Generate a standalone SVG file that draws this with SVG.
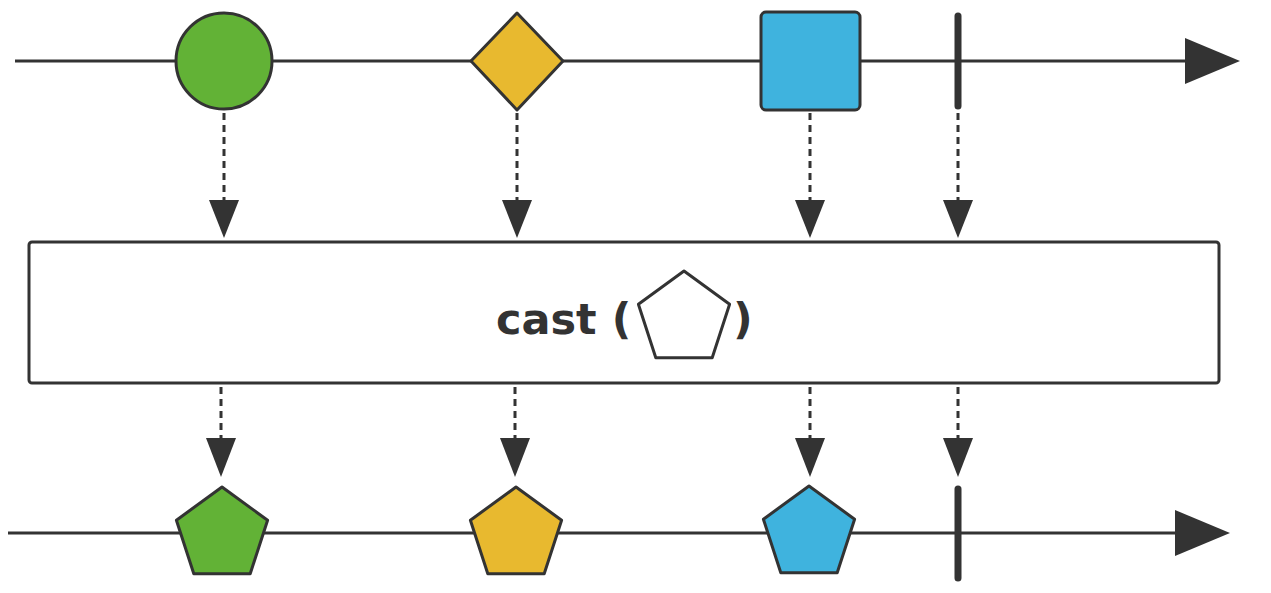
<svg xmlns="http://www.w3.org/2000/svg" width="1271" height="593" viewBox="0 0 1271 593">
<style>
.line{stroke:#333;stroke-width:3;fill:none}
.dash{stroke:#333;stroke-width:3;stroke-dasharray:7 5;fill:none}
.shape{stroke:#333;stroke-width:3;stroke-linejoin:round}
.term{stroke:#333;stroke-width:7;stroke-linecap:round}
.head{fill:#333}
.lbl{font-family:"DejaVu Sans",Verdana,sans-serif;font-weight:bold;font-size:43px;fill:#333}
</style>
<defs>
<polygon id="pent" points="0,-48 45.6,-14.8 28.2,38.8 -28.2,38.8 -45.6,-14.8"/>
</defs>
<g id="timeline-top">
<line class="line" x1="15" y1="61" x2="1190" y2="61"/>
<polygon class="head" points="1185,38 1240,61 1185,84"/>
</g>
<g id="timeline-bottom">
<line class="line" x1="8" y1="533" x2="1180" y2="533"/>
<polygon class="head" points="1175,510 1230,533 1175,556"/>
</g>
<g id="connectors">
<line class="dash" x1="224" y1="113" x2="224" y2="204"/>
<polygon class="head" points="209,200 239,200 224,238"/>
<line class="dash" x1="517" y1="113" x2="517" y2="204"/>
<polygon class="head" points="502,200 532,200 517,238"/>
<line class="dash" x1="810" y1="113" x2="810" y2="204"/>
<polygon class="head" points="795,200 825,200 810,238"/>
<line class="dash" x1="958" y1="113" x2="958" y2="204"/>
<polygon class="head" points="943,200 973,200 958,238"/>
<line class="dash" x1="221" y1="387" x2="221" y2="442"/>
<polygon class="head" points="206,438 236,438 221,477"/>
<line class="dash" x1="515" y1="387" x2="515" y2="442"/>
<polygon class="head" points="500,438 530,438 515,477"/>
<line class="dash" x1="810" y1="387" x2="810" y2="442"/>
<polygon class="head" points="795,438 825,438 810,477"/>
<line class="dash" x1="958" y1="387" x2="958" y2="442"/>
<polygon class="head" points="943,438 973,438 958,477"/>
</g>
<g id="in-circle"><circle class="shape" cx="224" cy="61" r="48" fill="#62B236"/></g>
<g id="in-diamond"><polygon class="shape" points="517,13 563,61 517,110 471,61" fill="#E8B92F"/></g>
<g id="in-square"><rect class="shape" x="761" y="12" width="99" height="98" rx="5" fill="#3FB3DE"/></g>
<g id="in-complete"><line class="term" x1="958" y1="16" x2="958" y2="106"/></g>
<g id="operator">
<rect x="29" y="242" width="1190" height="141" rx="3" fill="#fff" stroke="#333" stroke-width="3"/>
<text class="lbl" x="496" y="334">cast (</text>
<use href="#pent" x="684" y="319" fill="#fff" class="shape"/>
<text class="lbl" x="733" y="334">)</text>
</g>
<g id="out-green"><use href="#pent" x="222" y="535" fill="#62B236" class="shape"/></g>
<g id="out-yellow"><use href="#pent" x="516" y="535" fill="#E8B92F" class="shape"/></g>
<g id="out-blue"><use href="#pent" x="809" y="534" fill="#3FB3DE" class="shape"/></g>
<g id="out-complete"><line class="term" x1="958" y1="489" x2="958" y2="578"/></g>
</svg>
